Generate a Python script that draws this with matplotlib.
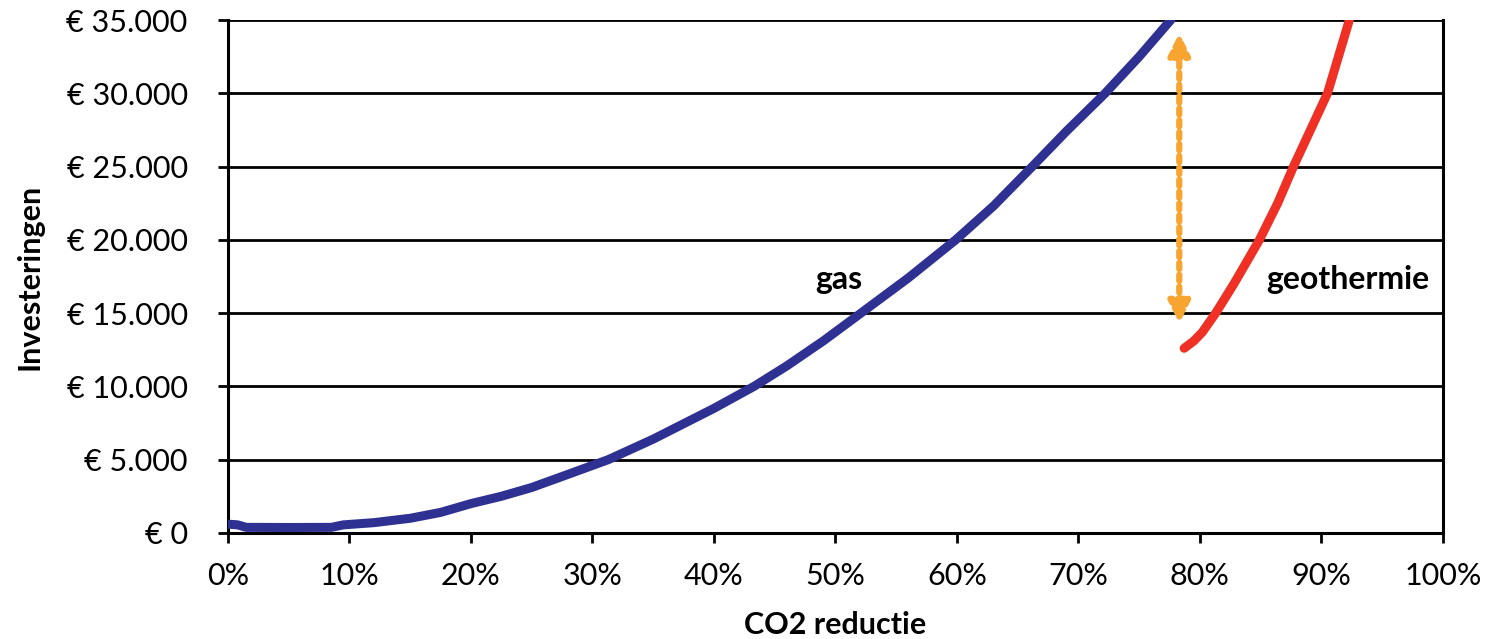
import numpy as np
import matplotlib
matplotlib.use("Agg")
import matplotlib.pyplot as plt
from matplotlib.ticker import FuncFormatter

plt.rcParams['font.family'] = ['Lato', 'DejaVu Sans']

# gas curve (CO2 reductie %, investering EUR)
gas_x = [0, 0.8, 1.5, 5, 8.5, 9.5, 12, 15, 17.5, 20, 22.5, 25, 28, 31.3, 35,
         40, 43.3, 46, 49, 52.1, 56, 59.9, 63, 66.2, 69, 72.2, 75, 77.6]
gas_y = [600, 550, 380, 370, 380, 550, 700, 1000, 1400, 2000, 2500, 3100,
         4000, 5000, 6400, 8500, 10000, 11400, 13100, 15000, 17400, 20000,
         22300, 25000, 27400, 30000, 32500, 35000]

# geothermie curve
geo_x = [78.7, 79.5, 80.2, 81.3, 82.8, 84.9, 86.4, 87.7, 89.1, 90.5, 91.4, 92.3]
geo_y = [12600, 13100, 13700, 15000, 17000, 20000, 22500, 25000, 27500,
         30000, 32500, 35000]

# verschil-pijl
arrow_x = 78.3
arrow_y = [14100, 34300]

fig = plt.figure(figsize=(14.88, 6.39), dpi=100)
ax = fig.add_axes([0.1532, 0.166, 0.8165, 0.8027])

ax.plot(gas_x, gas_y, color='#2E3192', lw=6.5, solid_capstyle='round',
        solid_joinstyle='round', zorder=3)
ax.plot(geo_x, geo_y, color='#EE3124', lw=6.5, solid_capstyle='round',
        solid_joinstyle='round', zorder=3)

ax.annotate('', xy=(arrow_x, arrow_y[1]), xytext=(arrow_x, arrow_y[0]),
            arrowprops=dict(arrowstyle='<|-|>', color='#F7A530', lw=4.5,
                            linestyle=(0, (1, 0.9)), mutation_scale=32),
            zorder=4)

ax.text(50.3, 17300, 'gas', fontsize=23, fontweight='bold', ha='center', va='center')
ax.text(92.2, 17300, 'geothermie', fontsize=23, fontweight='bold', ha='center', va='center')

ax.set_xlim(0, 100)
ax.set_ylim(0, 35000)
ax.set_xticks(np.arange(0, 101, 10))
ax.set_yticks(np.arange(0, 35001, 5000))
ax.xaxis.set_major_formatter(FuncFormatter(lambda v, p: f'{v:.0f}%'))
ax.yaxis.set_major_formatter(FuncFormatter(lambda v, p: '€ ' + f'{v:,.0f}'.replace(',', '.')))

ax.grid(axis='y', color='black', lw=2)
ax.set_axisbelow(True)
for s in ['left', 'right', 'bottom']:
    ax.spines[s].set_linewidth(2.2)
ax.spines['top'].set_visible(False)
ax.tick_params(axis='both', labelsize=22, width=2, length=7, color='black')
ax.tick_params(axis='y', pad=22)
ax.tick_params(axis='x', pad=14)

ax.set_xlabel('CO2 reductie', fontsize=22, fontweight='bold')
ax.set_ylabel('Investeringen', fontsize=22, fontweight='bold')
ax.xaxis.set_label_coords(0.5, -0.152)
ax.yaxis.set_label_coords(-0.152, 0.5)

fig.savefig('out.png', dpi=100)
